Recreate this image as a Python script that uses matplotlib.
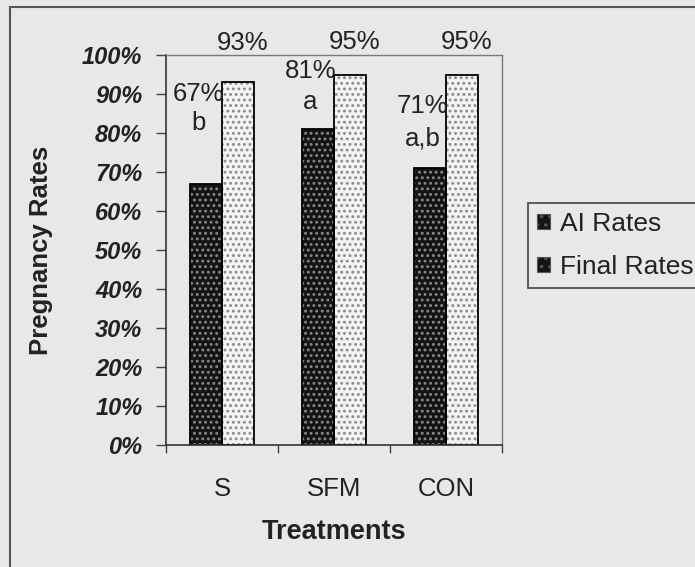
import numpy as np
import matplotlib.pyplot as plt
from matplotlib.patches import Patch, Rectangle

plt.rcParams['font.family'] = ['Liberation Sans', 'DejaVu Sans']
plt.rcParams['hatch.linewidth'] = 1.3

# pregnancy rates per treatment
treatments = ['S', 'SFM', 'CON']
ai_rates = [0.67, 0.81, 0.71]
final_rates = [0.93, 0.95, 0.95]
ai_letters = ['b', 'a', 'a,b']
series_names = ['AI Rates', 'Final Rates']

# where the value/letter annotations sit (data units)
ai_label_y = [0.90, 0.96, 0.87]
ai_letter_y = [0.826, 0.88, 0.787]
final_label_y = [1.03, 1.033, 1.033]

bg = '#e8e8e8'
dark = '#141414'
light = '#f3f3f3'
ink = '#222222'
fs = 17
fs_big = 18.5

fig = plt.figure(figsize=(6.95, 5.67), dpi=100, facecolor=bg)
ax = fig.add_axes([166/695, 1 - 445/567, 336/695, 390/567])
ax.set_facecolor(bg)

x = np.arange(len(treatments))
w = 0.29

# dotted fill first, then a plain black outline on top
ax.bar(x - w/2, ai_rates, w, color=dark, edgecolor='#8a8a8a', hatch='...', linewidth=0)
ax.bar(x + w/2, final_rates, w, color=light, edgecolor='#8a8a8a', hatch='...', linewidth=0)
ax.bar(x - w/2, ai_rates, w, fill=False, edgecolor='black', linewidth=1.3)
ax.bar(x + w/2, final_rates, w, fill=False, edgecolor='black', linewidth=1.3)

for i in range(len(treatments)):
    ax.text(x[i] - 0.21, ai_label_y[i], '{:.0%}'.format(ai_rates[i]), ha='center', va='center',
            fontsize=fs_big, color=ink, clip_on=False)
    ax.text(x[i] - 0.21, ai_letter_y[i], ai_letters[i], ha='center', va='center',
            fontsize=fs_big, color=ink, clip_on=False)
    ax.text(x[i] + 0.18, final_label_y[i], '{:.0%}'.format(final_rates[i]), ha='center', va='center',
            fontsize=fs_big, color=ink, clip_on=False)

ax.set_xlim(-0.5, len(treatments) - 0.5)
ax.set_ylim(0, 1)

# y axis
ax.set_yticks(np.arange(0, 1.01, 0.1))
ax.set_yticklabels(['{:.0%}'.format(v) for v in np.arange(0, 1.01, 0.1)],
                   fontsize=fs, fontweight='bold', fontstyle='italic', color=ink)
ax.tick_params(axis='y', length=7, width=1, color='#444444', pad=10)

# x axis: ticks between categories, labels under the centres
ax.set_xticks(np.arange(-0.5, len(treatments), 1.0))
ax.set_xticklabels([])
ax.set_xticks(x, minor=True)
ax.set_xticklabels(treatments, minor=True, fontsize=fs_big, color=ink)
ax.tick_params(axis='x', which='major', length=6, width=1, color='#444444')
ax.tick_params(axis='x', which='minor', length=0, pad=23)

ax.set_ylabel('Pregnancy Rates', fontsize=fs_big, fontweight='bold', color=ink)
ax.yaxis.set_label_coords(-0.335, 0.5)
ax.set_xlabel('Treatments', fontsize=fs_big + 1, fontweight='bold', color=ink)
ax.xaxis.set_label_coords(0.5, -0.19)

for side in ['top', 'right']:
    ax.spines[side].set_color('#7a7a7a')
    ax.spines[side].set_linewidth(1)
for side in ['left', 'bottom']:
    ax.spines[side].set_color('#333333')
    ax.spines[side].set_linewidth(1.2)

handles = [Patch(facecolor=dark, edgecolor='#555555', hatch='..', linewidth=0.8) for _ in series_names]
leg = fig.legend(handles, series_names, loc='upper left', bbox_to_anchor=(528/695, 1 - 203/567),
                 fontsize=fs_big + 0.5, frameon=True, fancybox=False, framealpha=1, edgecolor='#444444',
                 facecolor=bg, handlelength=0.5, handleheight=0.5, handletextpad=0.35,
                 labelspacing=0.72, borderpad=0.35, borderaxespad=0)
leg.get_frame().set_linewidth(1.2)
for t in leg.get_texts():
    t.set_color(ink)

# outer chart border (right and bottom edges fall off the canvas)
fig.add_artist(Rectangle((10/695, -0.1), 1.2, 1.1 - 7/567, transform=fig.transFigure,
                         fill=False, edgecolor='#555555', linewidth=1.5))

fig.savefig('out.png', dpi=100, facecolor=bg)
